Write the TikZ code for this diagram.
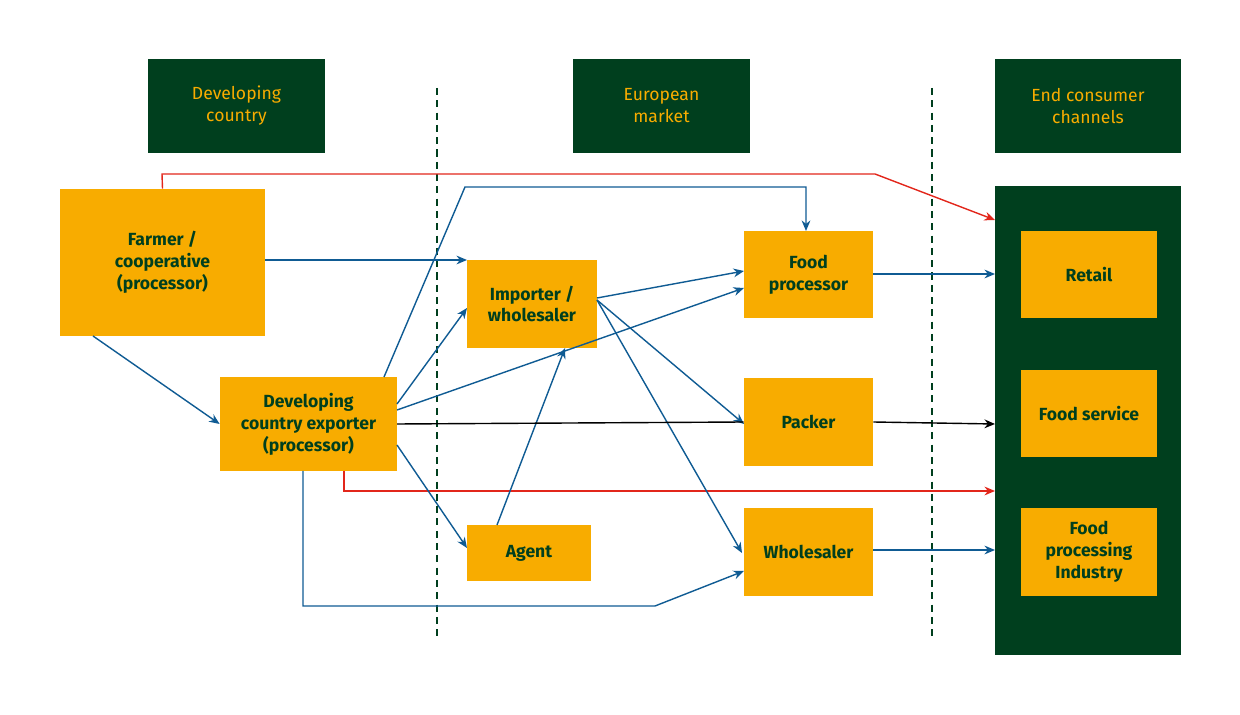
\documentclass[tikz,border=0pt]{standalone}
\usepackage{fontspec}
\setmainfont{Fira Sans}
\usetikzlibrary{arrows.meta}
\definecolor{dg}{HTML}{003F1E}
\definecolor{og}{HTML}{F8AC00}
\definecolor{bl}{HTML}{0F5B93}
\definecolor{rd}{HTML}{E2261B}
\begin{document}
\begin{tikzpicture}[x=0.02cm,y=-0.02cm,
  box/.style={fill=og,draw=none,font=\fontsize{10}{12.5}\selectfont\bfseries,text=dg,align=center,inner sep=0},
  hd/.style={fill=dg,draw=none,font=\fontsize{10}{12.5}\selectfont,text=og,align=center,inner sep=0},
  ar/.style={draw=bl,line width=0.8pt,-{Stealth[length=6pt,width=5pt]}},
  rar/.style={draw=rd,line width=0.8pt,-{Stealth[length=6pt,width=5pt]}},
  dsh/.style={draw=dg,line width=0.8pt,dash pattern=on 4pt off 3pt}]
\useasboundingbox (0,0) rectangle (1240,715);
\draw[dsh] (437,88) -- (437,640);
\draw[dsh] (932,88) -- (932,640);
\node[hd,minimum width=177*0.02cm,minimum height=94*0.02cm] (h1) at (236.5,106) {Developing\\country};
\node[hd,minimum width=177*0.02cm,minimum height=94*0.02cm] (h2) at (661.5,106) {European\\market};
\node[hd,minimum width=186*0.02cm,minimum height=94*0.02cm] (h3) at (1088,106) {End consumer\\channels};
\node[fill=dg,minimum width=186*0.02cm,minimum height=469*0.02cm,inner sep=0] (panel) at (1088,420.5) {};
\node[box,minimum width=205*0.02cm,minimum height=147*0.02cm] (farmer) at (162.5,262.5) {Farmer /\\cooperative\\(processor)};
\node[box,minimum width=177*0.02cm,minimum height=94*0.02cm] (exp) at (308.5,424) {Developing\\country exporter\\(processor)};
\node[box,minimum width=130*0.02cm,minimum height=88*0.02cm] (imp) at (532,304) {Importer /\\wholesaler};
\node[box,minimum width=124*0.02cm,minimum height=56*0.02cm] (agent) at (529,553) {Agent};
\node[box,minimum width=129*0.02cm,minimum height=87*0.02cm] (fp) at (808.5,274.5) {Food\\processor};
\node[box,minimum width=129*0.02cm,minimum height=88*0.02cm] (packer) at (808.5,422) {Packer};
\node[box,minimum width=129*0.02cm,minimum height=88*0.02cm] (whs) at (808.5,552) {Wholesaler};
\node[box,minimum width=136*0.02cm,minimum height=87*0.02cm] (retail) at (1089,274.5) {Retail};
\node[box,minimum width=136*0.02cm,minimum height=87*0.02cm] (fs) at (1089,413.5) {Food service};
\node[box,minimum width=136*0.02cm,minimum height=88*0.02cm] (fpi) at (1089,552) {Food\\processing\\Industry};
\coordinate (p1) at (995,220);
\coordinate (p2) at (995,491);
\coordinate (p3) at (995,274);
\coordinate (p4) at (995,424);
\coordinate (p5) at (995,550);
% red
\draw[rar] (farmer.north) -- (162,174) -- (875,174) -- (p1);
\draw[rar] (344,471) -- (344,491) -- (p2);
% blue
\draw[ar] (265,260) -- (467,260);
\draw[ar] (93,336) -- (exp.west);
\draw[ar] (384,377) -- (465,187) -- (806,187) -- (806,231);
\draw[ar] (397,404) -- (467,308);
\draw[ar] (397,410) -- (744,288);
\draw[ar] (397,445) -- (467,548);
\draw[ar] (303,471) -- (303,606) -- (655,606) -- (744,571);
\draw[ar] (497,525) -- (565,348);
\draw[ar] (597,298) -- (744,271);
\draw[ar] (597,300) -- (744,424);
\draw[ar] (597,300) -- (742,553);
\draw[ar] (873,274) -- (p3);
\draw[ar] (873,550) -- (p5);
% black
\draw[line width=0.8pt] (397,424) -- (packer.west);
\draw[line width=0.8pt,-{Stealth[length=6pt,width=5pt]}] (packer.east) -- (p4);
\end{tikzpicture}
\end{document}
